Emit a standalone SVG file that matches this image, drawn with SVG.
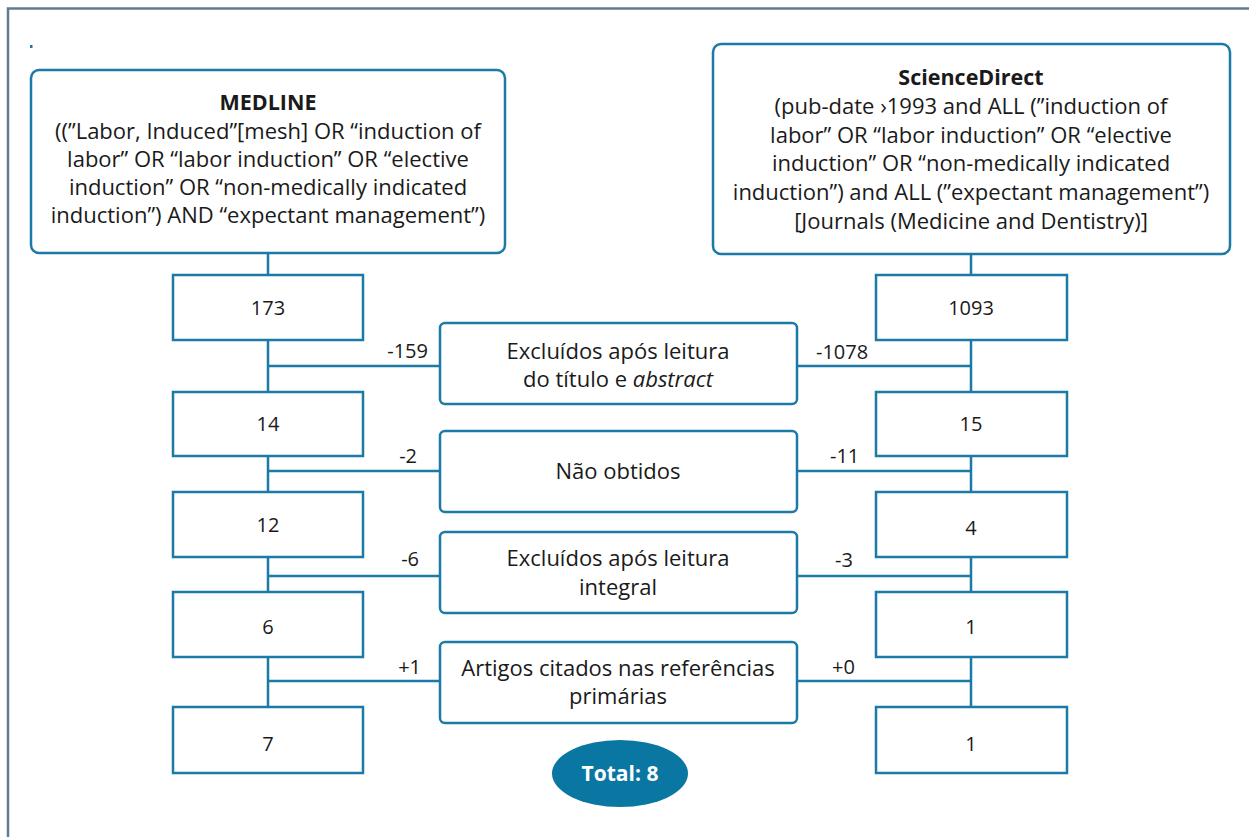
<svg xmlns="http://www.w3.org/2000/svg" width="1249" height="837" viewBox="0 0 1249 837">
<style>
.frame{fill:none;stroke:#5f7d92;stroke-width:2.5}
.box{fill:#fff;stroke:#1b7aa6;stroke-width:2.5}
.ln{stroke:#1b7aa6;stroke-width:2.5;fill:none}
text{font-family:"Open Sans","Noto Sans","DejaVu Sans",sans-serif;fill:#1a1a1a}
.t{font-size:22px;text-anchor:middle}
.h{font-size:21.5px;font-weight:bold;text-anchor:middle}
.n{font-size:20px;text-anchor:middle}
.l{font-size:20px}
.e{text-anchor:end}
</style>
<rect width="1249" height="837" fill="#fff"/>
<rect class="frame" x="8" y="8.5" width="1260" height="850"/>
<rect x="30" y="45" width="2.5" height="3" fill="#1b7aa6"/>

<g id="connectors">
<line class="ln" x1="268" y1="253" x2="268" y2="707"/>
<line class="ln" x1="971" y1="254" x2="971" y2="707"/>
<line class="ln" x1="268" y1="366" x2="440" y2="366"/>
<line class="ln" x1="268" y1="471" x2="440" y2="471"/>
<line class="ln" x1="268" y1="576" x2="440" y2="576"/>
<line class="ln" x1="268" y1="681" x2="440" y2="681"/>
<line class="ln" x1="797" y1="366" x2="971" y2="366"/>
<line class="ln" x1="797" y1="471" x2="971" y2="471"/>
<line class="ln" x1="797" y1="576" x2="971" y2="576"/>
<line class="ln" x1="797" y1="681" x2="971" y2="681"/>
<text class="l e" x="428" y="358">-159</text>
<text class="l e" x="417" y="463">-2</text>
<text class="l e" x="419" y="566">-6</text>
<text class="l e" x="421" y="674">+1</text>
<text class="l" x="816" y="359">-1078</text>
<text class="l" x="830" y="463">-11</text>
<text class="l" x="835" y="567">-3</text>
<text class="l" x="832" y="674">+0</text>
</g>

<g id="medline">
<rect class="box" x="31" y="70" width="474" height="183" rx="8"/>
<text class="h" x="268" y="110">MEDLINE</text>
<text class="t" x="268" y="139">((”Labor, Induced”[mesh] OR “induction of</text>
<text class="t" x="268" y="167">labor” OR “labor induction” OR “elective</text>
<text class="t" x="268" y="195">induction” OR “non-medically indicated</text>
<text class="t" x="268" y="223">induction”) AND “expectant management”)</text>
</g>

<g id="sciencedirect">
<rect class="box" x="713" y="44" width="517" height="210" rx="8"/>
<text class="h" x="971" y="85">ScienceDirect</text>
<text class="t" x="971" y="114">(pub-date ›1993 and ALL (”induction of</text>
<text class="t" x="971" y="143">labor” OR “labor induction” OR “elective</text>
<text class="t" x="971" y="171">induction” OR “non-medically indicated</text>
<text class="t" x="971" y="200">induction”) and ALL (”expectant management”)</text>
<text class="t" x="971" y="229">[Journals (Medicine and Dentistry)]</text>
</g>

<g id="m173"><rect class="box" x="173" y="275" width="190" height="65"/><text class="n" x="268" y="315">173</text></g>
<g id="m14"><rect class="box" x="173" y="392" width="190" height="64"/><text class="n" x="268" y="431">14</text></g>
<g id="m12"><rect class="box" x="173" y="492" width="190" height="65"/><text class="n" x="268" y="532">12</text></g>
<g id="m6"><rect class="box" x="173" y="592" width="190" height="65"/><text class="n" x="268" y="634">6</text></g>
<g id="m7"><rect class="box" x="173" y="707" width="190" height="66"/><text class="n" x="268" y="751">7</text></g>

<g id="s1093"><rect class="box" x="876" y="275" width="191" height="65"/><text class="n" x="971" y="315">1093</text></g>
<g id="s15"><rect class="box" x="876" y="392" width="191" height="64"/><text class="n" x="971" y="431">15</text></g>
<g id="s4"><rect class="box" x="876" y="492" width="191" height="65"/><text class="n" x="971" y="535">4</text></g>
<g id="s1a"><rect class="box" x="876" y="592" width="191" height="65"/><text class="n" x="971" y="634">1</text></g>
<g id="s1b"><rect class="box" x="876" y="707" width="191" height="66"/><text class="n" x="971" y="751">1</text></g>

<g id="c1"><rect class="box" x="440" y="323" width="357" height="81" rx="5"/>
<text class="t" x="618" y="359">Excluídos após leitura</text>
<text class="t" x="618" y="387">do título e <tspan font-style="italic">abstract</tspan></text></g>
<g id="c2"><rect class="box" x="440" y="431" width="357" height="81" rx="5"/>
<text class="t" x="618" y="479">Não obtidos</text></g>
<g id="c3"><rect class="box" x="440" y="532" width="357" height="81" rx="5"/>
<text class="t" x="618" y="566">Excluídos após leitura</text>
<text class="t" x="618" y="595">integral</text></g>
<g id="c4"><rect class="box" x="440" y="642" width="357" height="81" rx="5"/>
<text class="t" x="618" y="676">Artigos citados nas referências</text>
<text class="t" x="618" y="704">primárias</text></g>

<g id="total">
<ellipse cx="620" cy="773.5" rx="68" ry="33.5" fill="#0a77a3"/>
<text x="620" y="781" style="font-size:21px;font-weight:bold;text-anchor:middle;fill:#fff">Total: 8</text>
</g>
</svg>
